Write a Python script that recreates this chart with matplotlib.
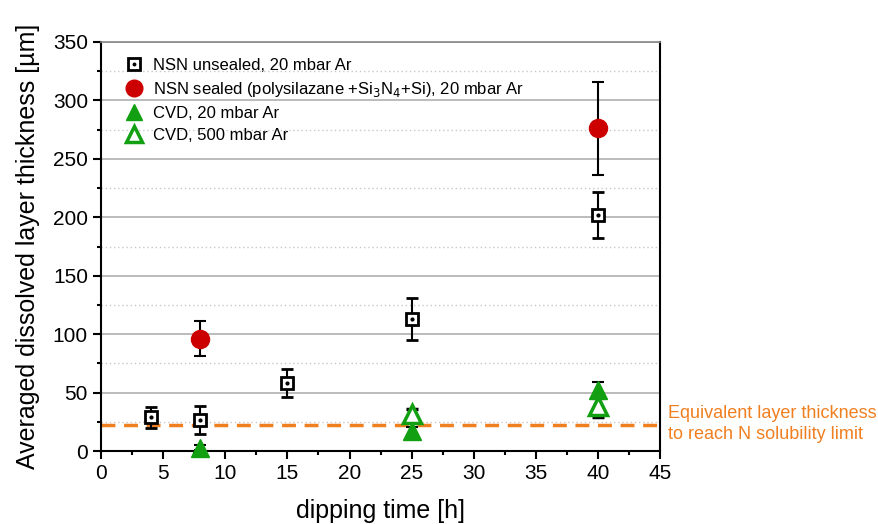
import matplotlib
matplotlib.use("Agg")
import matplotlib.pyplot as plt
from matplotlib.ticker import MultipleLocator
from matplotlib.lines import Line2D

plt.rcParams['font.family'] = ['Liberation Sans', 'DejaVu Sans']

# Data
t_unsealed = [4, 8, 15, 25, 40]
y_unsealed = [29, 27, 58, 113, 202]
e_unsealed = [9, 12, 12, 18, 20]

t_sealed = [8, 40]
y_sealed = [96, 276]
e_sealed = [15, 40]

t_cvd20 = [8, 25, 40]
y_cvd20 = [3, 17, 52]
e_cvd20 = [2, 4, 7]

t_cvd500 = [25, 40]
y_cvd500 = [32, 39]
e_cvd500 = [4, 10]

solubility_limit = 22

green = '#12a012'
red = '#cc0000'
orange = '#f07f20'

fig = plt.figure(figsize=(8.79, 5.24), dpi=100)
ax = fig.add_axes([0.115, 0.139, 0.636, 0.781])

ax.set_xlim(0, 45)
ax.set_ylim(0, 350)
ax.xaxis.set_major_locator(MultipleLocator(5))
ax.xaxis.set_minor_locator(MultipleLocator(2.5))
ax.yaxis.set_major_locator(MultipleLocator(50))
ax.yaxis.set_minor_locator(MultipleLocator(25))

ax.grid(which='major', axis='y', color='#b0b0b0', linewidth=1.2, linestyle='-')
ax.grid(which='minor', axis='y', color='#c8c8c8', linewidth=1.0, linestyle=(0, (1, 2)))
ax.set_axisbelow(True)

ax.axhline(solubility_limit, color=orange, linewidth=2.5, linestyle=(0, (4, 2.5)), zorder=2)

ebkw = dict(ecolor='black', elinewidth=1.5, capsize=4, capthick=1.5, linestyle='none', zorder=3)

cvd20 = ax.errorbar(t_cvd20, y_cvd20, yerr=e_cvd20, marker='^', markersize=12.5, mfc=green, mec=green, **ebkw)
for art in [cvd20[0], *cvd20[1], *cvd20[2]]:
    art.set_clip_on(False)
ax.errorbar(t_cvd500, y_cvd500, yerr=e_cvd500, marker='^', markersize=12.5, mfc='white', mec=green,
            mew=2.5, **ebkw)
ax.errorbar(t_sealed, y_sealed, yerr=e_sealed, marker='o', markersize=13, mfc=red, mec=red, **ebkw)
ax.errorbar(t_unsealed, y_unsealed, yerr=e_unsealed, marker='s', markersize=9, mfc='white', mec='black',
            mew=2, **ebkw)
ax.plot(t_unsealed, y_unsealed, linestyle='none', marker='o', markersize=2, color='black', zorder=4)

sq = Line2D([], [], linestyle='none', marker='s', markersize=8, mfc='white', mec='black', mew=2)
dot = Line2D([], [], linestyle='none', marker='o', markersize=1.8, color='black')
handles = [
    (sq, dot),
    Line2D([], [], linestyle='none', marker='o', markersize=12, mfc=red, mec=red),
    Line2D([], [], linestyle='none', marker='^', markersize=12, mfc=green, mec=green),
    Line2D([], [], linestyle='none', marker='^', markersize=11, mfc='white', mec=green, mew=2.5),
]
labels = ['NSN unsealed, 20 mbar Ar',
          'NSN sealed (polysilazane +Si$_3$N$_4$+Si), 20 mbar Ar',
          'CVD, 20 mbar Ar',
          'CVD, 500 mbar Ar']
leg = ax.legend(handles, labels, loc='upper left',
                bbox_to_anchor=(0.0, 1.0), frameon=False, fontsize=12,
                handletextpad=0.15, labelspacing=0.42, borderaxespad=0.55)

for s in ['left', 'bottom', 'right']:
    ax.spines[s].set_linewidth(1.5)
    ax.spines[s].set_color('black')
ax.spines['top'].set_color('#888888')
ax.spines['top'].set_linewidth(1.2)

ax.tick_params(which='major', direction='out', length=6, width=1.5, labelsize=15, colors='black')
ax.tick_params(which='minor', direction='out', length=3, width=1.5)
ax.tick_params(axis='both', which='both', top=False, right=False)

ax.set_xlabel('dipping time [h]', fontsize=18, labelpad=11)
ax.set_ylabel('Averaged dissolved layer thickness [µm]', fontsize=18, labelpad=9)

fig.text(0.76, 0.191, 'Equivalent layer thickness\nto reach N solubility limit', color=orange,
         fontsize=13, va='center', ha='left', linespacing=1.3)

fig.savefig('out.png', dpi=100)
